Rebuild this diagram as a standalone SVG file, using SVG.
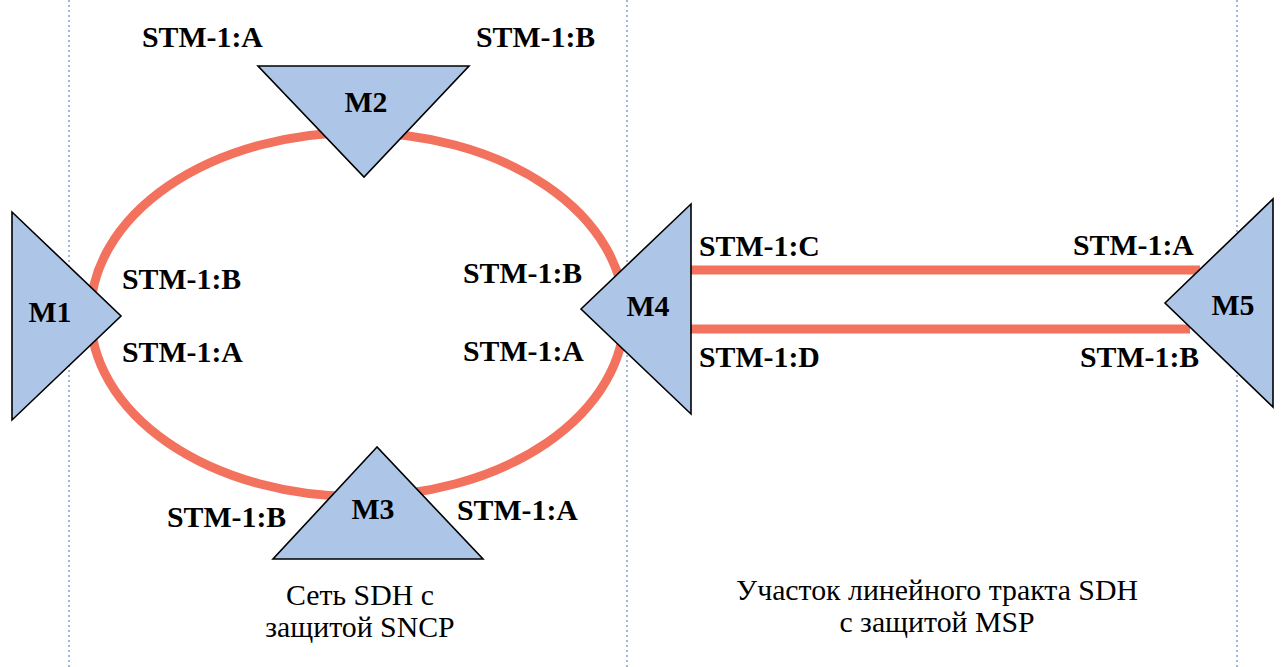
<svg xmlns="http://www.w3.org/2000/svg" width="1281" height="667" viewBox="0 0 1281 667">
<style>
.tri{fill:#adc6e7;stroke:#000;stroke-width:1.6;stroke-linejoin:miter}
.lbl{font-family:"Liberation Serif",serif;font-weight:bold;font-size:29.8px;fill:#000}
.nm{font-family:"Liberation Serif",serif;font-weight:bold;font-size:29.8px;fill:#000;text-anchor:middle}
.cap{font-family:"Liberation Serif",serif;font-size:29.8px;fill:#000;text-anchor:middle}
.sep{stroke:#7090c8;stroke-width:1.3;stroke-dasharray:2 3;fill:none}
.link{stroke:#f3725e;stroke-width:9;fill:none}
</style>
<rect width="1281" height="667" fill="#fff"/>
<g id="separators">
<line class="sep" x1="69" y1="0" x2="69" y2="667"/>
<line class="sep" x1="627" y1="0" x2="627" y2="667"/>
<line class="sep" x1="1237" y1="0" x2="1237" y2="667"/>
</g>
<g id="connectors">
<ellipse class="link" cx="357.5" cy="314.5" rx="267" ry="182"/>
<line class="link" x1="691" y1="270" x2="1200" y2="270"/>
<line class="link" x1="691" y1="329" x2="1190" y2="329"/>
</g>
<g id="M1">
<polygon class="tri" points="12,212 12,420 121,316"/>
<text class="nm" x="50" y="322">M1</text>
</g>
<g id="M2">
<polygon class="tri" points="258,66 469,66 364,177"/>
<text class="nm" x="366" y="112">M2</text>
</g>
<g id="M3">
<polygon class="tri" points="377,447 273,559 483,559"/>
<text class="nm" x="373" y="519">M3</text>
</g>
<g id="M4">
<polygon class="tri" points="581,309 691,204 691,414"/>
<text class="nm" x="648" y="316">M4</text>
</g>
<g id="M5">
<polygon class="tri" points="1165,303 1273,199 1273,407"/>
<text class="nm" x="1233" y="315">M5</text>
</g>
<g id="labels">
<text class="lbl" x="142" y="47">STM-1:A</text>
<text class="lbl" x="476" y="47">STM-1:B</text>
<text class="lbl" x="122" y="289">STM-1:B</text>
<text class="lbl" x="122" y="362">STM-1:A</text>
<text class="lbl" x="463" y="283">STM-1:B</text>
<text class="lbl" x="463" y="361">STM-1:A</text>
<text class="lbl" x="699" y="256">STM-1:C</text>
<text class="lbl" x="699" y="367">STM-1:D</text>
<text class="lbl" x="1073" y="255">STM-1:A</text>
<text class="lbl" x="1080" y="367">STM-1:B</text>
<text class="lbl" x="167" y="527">STM-1:B</text>
<text class="lbl" x="457" y="520">STM-1:A</text>
</g>
<g id="captions">
<text class="cap" x="360" y="605">Сеть SDH с</text>
<text class="cap" x="360" y="637">защитой SNCP</text>
<text class="cap" x="937" y="600">Участок линейного тракта SDH</text>
<text class="cap" x="937" y="632">с защитой MSP</text>
</g>
</svg>
